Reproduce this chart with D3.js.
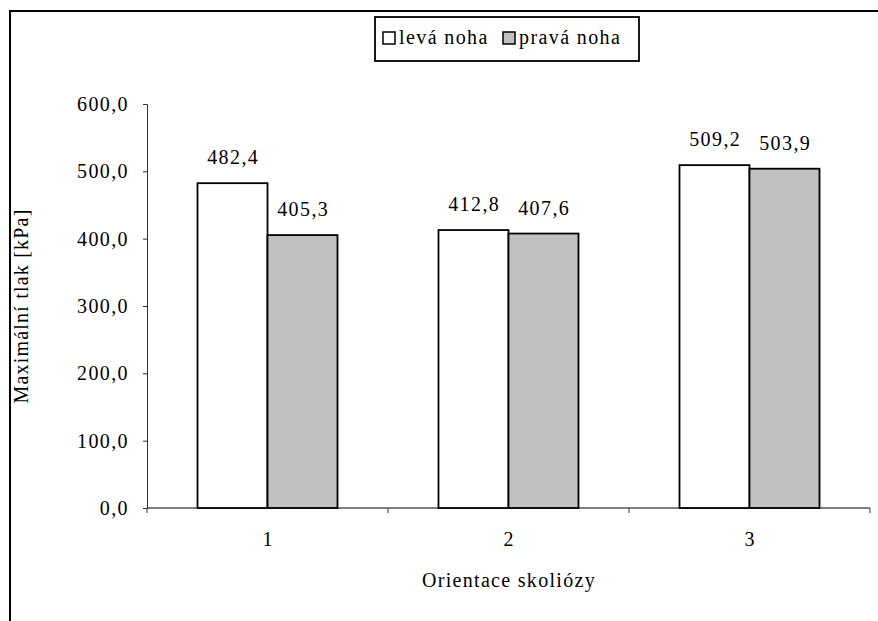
<!DOCTYPE html>
<html>
<head>
<meta charset="utf-8">
<script src="https://cdn.jsdelivr.net/npm/d3@7"></script>
<style>
  body { margin: 0; background: #fff; }
  svg text { font-family: "Liberation Serif", "Times New Roman", serif; fill: #000; }
</style>
</head>
<body>
<svg id="chart" width="878" height="621"></svg>
<script>
// Categories and series
const categories = ["1", "2", "3"];
const seriesNames = ["levá noha", "pravá noha"];
const levaNoha = [482.4, 412.8, 509.2];
const pravaNoha = [405.3, 407.6, 503.9];
const yTicks = [0, 100, 200, 300, 400, 500, 600];
const seriesColors = ["#ffffff", "#c0c0c0"];

const fmt = v => v.toFixed(1).replace(".", ",");

const svg = d3.select("#chart");

// Outer chart frame
svg.append("rect")
  .attr("x", 10).attr("y", 11)
  .attr("width", 880).attr("height", 630)
  .attr("fill", "#fff").attr("stroke", "#000").attr("stroke-width", 2);

const y = d3.scaleLinear().domain([0, 600]).range([508, 104]);
const x = d3.scaleBand().domain(categories).range([147, 870]).paddingInner(0).paddingOuter(0);
const sub = d3.scaleBand().domain(seriesNames).range([0, 140]);
const groupOffset = (x.bandwidth() - 140) / 2;

// Y axis
const yAxis = svg.append("g").attr("transform", "translate(147,0)")
  .call(d3.axisLeft(y).tickValues(yTicks).tickSize(4).tickPadding(14).tickFormat(fmt));
yAxis.select(".domain").attr("stroke", "#333").attr("stroke-width", 1);
yAxis.selectAll(".tick line").attr("stroke", "#333");
yAxis.selectAll(".tick text")
  .attr("font-family", "Liberation Serif").attr("font-size", 20)
  .attr("letter-spacing", "1.4px").attr("dy", "0.32em");

// X axis: line with boundary ticks between categories
svg.append("line")
  .attr("x1", 147).attr("x2", 870).attr("y1", y(0)).attr("y2", y(0))
  .attr("stroke", "#000").attr("stroke-width", 1.2);
const boundaries = categories.map(c => x(c)).concat([x(categories[categories.length - 1]) + x.bandwidth()]);
svg.selectAll(".xtick").data(boundaries).enter().append("line")
  .attr("class", "xtick")
  .attr("x1", d => d).attr("x2", d => d)
  .attr("y1", y(0)).attr("y2", y(0) + 5)
  .attr("stroke", "#333");
svg.selectAll(".xlabel").data(categories).enter().append("text")
  .attr("class", "xlabel")
  .attr("x", d => x(d) + x.bandwidth() / 2)
  .attr("y", 546)
  .attr("text-anchor", "middle")
  .attr("font-size", 20)
  .text(d => d);

// Bars
const seriesData = [levaNoha, pravaNoha];
seriesNames.forEach((name, si) => {
  const vals = seriesData[si];
  const g = svg.append("g");
  g.selectAll("rect").data(vals).enter().append("rect")
    .attr("x", (d, i) => x(categories[i]) + groupOffset + sub(name))
    .attr("y", d => y(d))
    .attr("width", sub.bandwidth())
    .attr("height", d => y(0) - y(d))
    .attr("fill", seriesColors[si])
    .attr("stroke", "#000")
    .attr("stroke-width", 1.8);
  g.selectAll("text").data(vals).enter().append("text")
    .attr("x", (d, i) => x(categories[i]) + groupOffset + sub(name) + sub.bandwidth() / 2 + 0.7)
    .attr("y", d => y(d) - 19)
    .attr("text-anchor", "middle")
    .attr("font-size", 20)
    .attr("letter-spacing", "1.4px")
    .text(d => fmt(d));
});

// Axis titles
svg.append("text")
  .attr("transform", "translate(28,306) rotate(-90)")
  .attr("text-anchor", "middle")
  .attr("font-size", 20)
  .attr("letter-spacing", "1.2px")
  .text("Maximální tlak [kPa]");
svg.append("text")
  .attr("x", 509).attr("y", 587)
  .attr("text-anchor", "middle")
  .attr("font-size", 20)
  .attr("letter-spacing", "1.3px")
  .text("Orientace skoliózy");

// Legend
const legend = svg.append("g");
legend.append("rect")
  .attr("x", 375).attr("y", 17).attr("width", 264).attr("height", 44)
  .attr("fill", "#fff").attr("stroke", "#000").attr("stroke-width", 1.8);
const legendX = [383, 503];
seriesNames.forEach((name, si) => {
  legend.append("rect")
    .attr("x", legendX[si]).attr("y", 32).attr("width", 12).attr("height", 12)
    .attr("fill", seriesColors[si]).attr("stroke", "#000").attr("stroke-width", 1.5);
  legend.append("text")
    .attr("x", legendX[si] + 16).attr("y", 44)
    .attr("font-size", 20)
    .attr("letter-spacing", "1.4px")
    .text(name);
});
</script>
</body>
</html>
